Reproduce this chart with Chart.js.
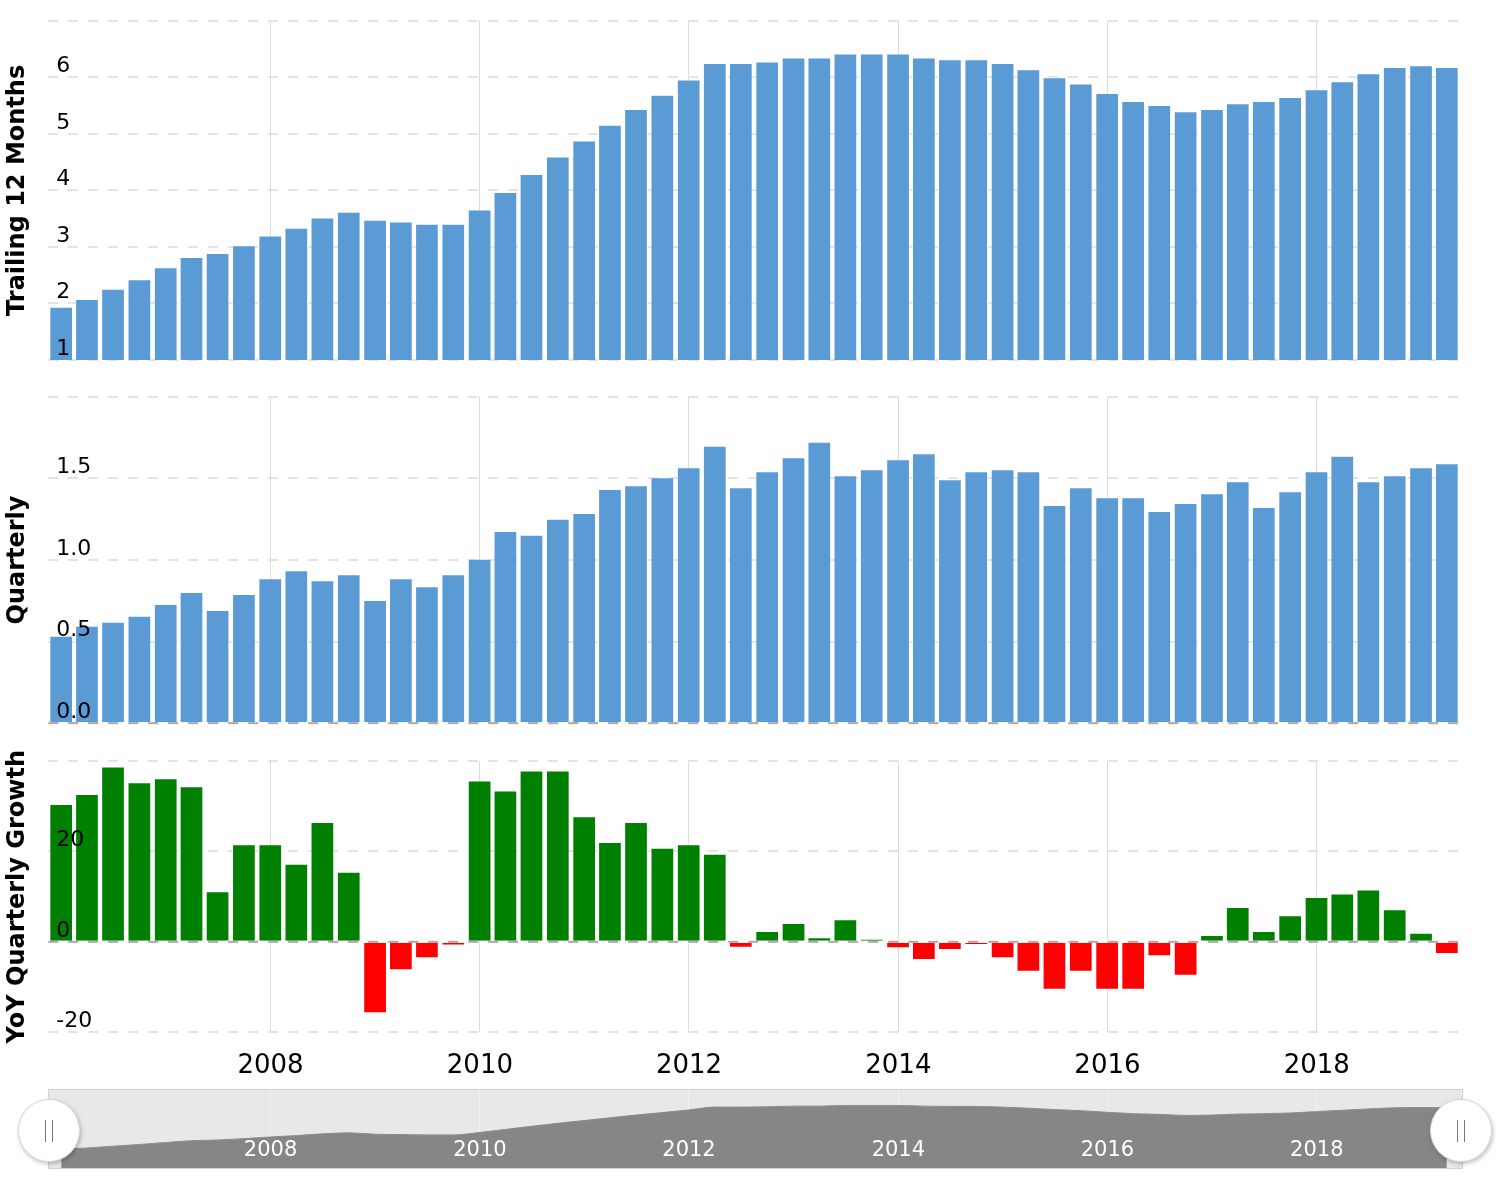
<!DOCTYPE html>
<html>
<head>
<meta charset="utf-8">
<title>Quarterly results</title>
<script src="https://cdn.jsdelivr.net/npm/chart.js"></script>
<style>
  body { margin: 0; background: #fff; }
  #wrap { position: relative; width: 1500px; height: 1198px; overflow: hidden; }
  #wrap canvas { position: absolute; left: 0; }
  #navBox { position: absolute; left: 48px; top: 1089px; width: 1413px; height: 78px; background: #e8e8e8; border: 1px solid #d2d2d2; }
  .handle { position: absolute; top: 1099px; width: 60px; height: 61px; border-radius: 50%; background: #fff; border: 1px solid #d8d8d8; box-shadow: 1px 2px 4px rgba(0, 0, 0, 0.25); }
  .handle::before, .handle::after { content: ""; position: absolute; top: 20px; height: 22px; border-left: 1px solid #777; }
  .handle::before { left: 26px; }
  .handle::after { left: 33px; }
</style>
</head>
<body>
<div id="wrap">
  <canvas id="ttmChart" width="1500" height="380" style="top:0"></canvas>
  <canvas id="qChart" width="1500" height="360" style="top:380px"></canvas>
  <canvas id="yoyChart" width="1500" height="345" style="top:740px"></canvas>
  <div id="navBox"></div>
  <canvas id="navChart" width="1500" height="90" style="top:1085px"></canvas>
  <div class="handle" style="left:18px"></div>
  <div class="handle" style="left:1430px"></div>
</div>
<script>
// quarter end dates (one bar per quarter)
const quarterEnds = [
  "2005-12-31",
  "2006-03-31", "2006-06-30", "2006-09-30", "2006-12-31",
  "2007-03-31", "2007-06-30", "2007-09-30", "2007-12-31",
  "2008-03-31", "2008-06-30", "2008-09-30", "2008-12-31",
  "2009-03-31", "2009-06-30", "2009-09-30", "2009-12-31",
  "2010-03-31", "2010-06-30", "2010-09-30", "2010-12-31",
  "2011-03-31", "2011-06-30", "2011-09-30", "2011-12-31",
  "2012-03-31", "2012-06-30", "2012-09-30", "2012-12-31",
  "2013-03-31", "2013-06-30", "2013-09-30", "2013-12-31",
  "2014-03-31", "2014-06-30", "2014-09-30", "2014-12-31",
  "2015-03-31", "2015-06-30", "2015-09-30", "2015-12-31",
  "2016-03-31", "2016-06-30", "2016-09-30", "2016-12-31",
  "2017-03-31", "2017-06-30", "2017-09-30", "2017-12-31",
  "2018-03-31", "2018-06-30", "2018-09-30", "2018-12-31",
  "2019-03-31",
];

const ttm = [
  1.94, 2.08, 2.26, 2.43, 2.64, 2.82, 2.89, 3.03, 3.2, 3.34,
  3.52, 3.62, 3.48, 3.45, 3.41, 3.41, 3.66, 3.97, 4.29, 4.6,
  4.88, 5.16, 5.44, 5.69, 5.96, 6.25, 6.25, 6.28, 6.35, 6.35,
  6.42, 6.42, 6.42, 6.35, 6.32, 6.32, 6.25, 6.14, 6.0, 5.89,
  5.72, 5.58, 5.51, 5.4, 5.44, 5.54, 5.58, 5.65, 5.79, 5.93,
  6.07, 6.18, 6.21, 6.18,
];

const quarterly = [
  0.536, 0.598, 0.622, 0.659, 0.731, 0.804, 0.694, 0.792, 0.888, 0.937,
  0.876, 0.912, 0.755, 0.888, 0.839, 0.912, 1.008, 1.178, 1.155, 1.253,
  1.288, 1.435, 1.457, 1.506, 1.568, 1.7, 1.445, 1.543, 1.629, 1.724,
  1.519, 1.555, 1.617, 1.653, 1.494, 1.543, 1.555, 1.543, 1.337, 1.445,
  1.384, 1.384, 1.3, 1.349, 1.408, 1.482, 1.324, 1.421, 1.543, 1.639,
  1.482, 1.519, 1.568, 1.592,
];

const yoyGrowth = [
  30.5, 32.7, 38.8, 35.3, 36.2, 34.4, 11.2, 21.6, 21.6, 17.3,
  26.5, 15.5, -15.8, -6.3, -3.6, -0.8, 35.7, 33.5, 37.9, 37.9,
  27.8, 22.1, 26.5, 20.8, 21.6, 19.5, -1.3, 2.4, 4.2, 1.0,
  5.0, 0.7, -1.4, -4.0, -1.8, -0.7, -3.6, -6.6, -10.6, -6.6,
  -10.6, -10.6, -3.2, -7.5, 1.5, 7.7, 2.4, 5.9, 9.9, 10.7,
  11.6, 7.2, 2.0, -2.7,
];

const tickYears = [2008, 2010, 2012, 2014, 2016, 2018];
const xRange = ["2005-11-16", "2019-05-16"];

const BLUE = "#5b9bd5";
const GREEN = "#008000";
const RED = "#ff0000";

Chart.defaults.font.family = '"DejaVu Sans", sans-serif';
Chart.defaults.animation = false;
Chart.defaults.plugins.legend.display = false;
Chart.defaults.plugins.tooltip.enabled = false;

const toTime = (s) => Date.parse(s + "T00:00:00Z");
const X_MIN = toTime(xRange[0]);
const X_MAX = toTime(xRange[1]);
const yearTicks = tickYears.map((y) => Date.UTC(y, 0, 1));

function points(values) {
  return quarterEnds.map((d, i) => ({ x: toTime(d), y: values[i] }));
}

// shared time axis, labels only on the last panel
function timeAxis(showLabels, height, gridColor) {
  return {
    type: "linear",
    min: X_MIN,
    max: X_MAX,
    offset: false,
    afterBuildTicks: (s) => {
      s.ticks = yearTicks.map((v) => ({ value: v }));
    },
    grid: { color: gridColor, lineWidth: 1, drawTicks: false, offset: false },
    border: { display: false },
    ticks: {
      display: showLabels,
      autoSkip: false,
      maxRotation: 0,
      padding: 18,
      color: "#000",
      font: { size: 26 },
      callback: (v) => String(new Date(v).getUTCFullYear()),
    },
    afterFit: (s) => {
      s.height = height;
      s.paddingLeft = 0;
      s.paddingRight = 0;
    },
  };
}

function valueAxis(title, min, max, step, fmt) {
  return {
    min: min,
    max: max,
    ticks: {
      stepSize: step,
      mirror: true,
      padding: 8,
      labelOffset: -11,
      z: 1, // labels sit on top of the bars
      color: "#000",
      font: { size: 22 },
      callback: (v) => (v === max ? "" : fmt(v)),
    },
    grid: { color: "#e3e3e3", lineWidth: 2, drawTicks: false },
    border: { display: false, dash: [10, 10] },
    title: {
      display: true,
      text: title,
      color: "#000",
      font: { size: 24, weight: "bold" },
      padding: { top: 3, bottom: 0 },
    },
    afterFit: (s) => {
      s.width = 48.3;
      s.paddingTop = 0;
      s.paddingBottom = 0;
    },
  };
}

// darker dashed line at zero, drawn over the bars
const zeroLine = {
  id: "zeroLine",
  afterDatasetsDraw(chart) {
    const { ctx, chartArea, scales } = chart;
    const y = scales.y.getPixelForValue(0);
    ctx.save();
    ctx.setLineDash([10, 10]);
    ctx.strokeStyle = "rgba(0, 0, 0, 0.25)";
    ctx.lineWidth = 2;
    ctx.beginPath();
    ctx.moveTo(chartArea.left, y);
    ctx.lineTo(chartArea.right, y);
    ctx.stroke();
    ctx.restore();
  },
};

function barPanel(id, dataset, yAxis, pad, xHeight, showLabels, extraPlugins) {
  return new Chart(document.getElementById(id), {
    type: "bar",
    data: { datasets: [dataset] },
    options: {
      responsive: false,
      layout: { padding: pad },
      datasets: { bar: { barPercentage: 0.92, categoryPercentage: 1 } },
      scales: {
        x: timeAxis(showLabels, xHeight, "#dcdcdc"),
        y: yAxis,
      },
    },
    plugins: extraPlugins,
  });
}

//============== Trailing 12 months ==============
barPanel(
  "ttmChart",
  {
    data: points(ttm),
    backgroundColor: BLUE,
    borderColor: "rgba(255, 255, 255, 0.35)",
    borderWidth: 1,
  },
  valueAxis("Trailing 12 Months", 1, 7, 1, (v) => String(v)),
  { left: 0, right: 40, top: 20.7, bottom: 20 },
  0,
  false,
  []
);

//============== Quarterly ==============
barPanel(
  "qChart",
  {
    data: points(quarterly),
    backgroundColor: BLUE,
    borderColor: "rgba(255, 255, 255, 0.35)",
    borderWidth: 1,
  },
  valueAxis("Quarterly", 0, 2, 0.5, (v) => v.toFixed(1)),
  { left: 0, right: 40, top: 16.7, bottom: 16.7 },
  0,
  false,
  [zeroLine]
);

//============== YoY growth ==============
barPanel(
  "yoyChart",
  {
    data: points(yoyGrowth),
    backgroundColor: (ctx) => (ctx.raw && ctx.raw.y < 0 ? RED : GREEN),
    borderColor: "rgba(255, 255, 255, 0.3)",
    borderWidth: 1,
  },
  valueAxis("YoY Quarterly Growth", -20, 40, 20, (v) => String(v)),
  { left: 0, right: 40, top: 21, bottom: 0 },
  52.7,
  true,
  [zeroLine]
);

//============== navigator ==============
const navLabels = {
  id: "navLabels",
  afterDraw(chart) {
    const { ctx, chartArea, scales } = chart;
    ctx.save();
    ctx.fillStyle = "#fff";
    ctx.font = '21px "DejaVu Sans"';
    ctx.textAlign = "center";
    ctx.textBaseline = "middle";
    for (const t of scales.x.ticks) {
      ctx.fillText(String(new Date(t.value).getUTCFullYear()), scales.x.getPixelForValue(t.value), chartArea.bottom - 18);
    }
    ctx.restore();
  },
};

new Chart(document.getElementById("navChart"), {
  type: "line",
  data: {
    datasets: [
      {
        data: points(ttm),
        fill: "origin",
        backgroundColor: "#868686",
        borderColor: "#8c8c8c",
        borderWidth: 1,
        pointRadius: 0,
        cubicInterpolationMode: "monotone",
      },
    ],
  },
  options: {
    responsive: false,
    layout: { padding: { left: 48.3, right: 40, top: 4.3, bottom: 6.7 } },
    scales: {
      x: timeAxis(false, 0, "rgba(255, 255, 255, 0.35)"),
      y: { display: false, min: 0, max: 8.07 },
    },
  },
  plugins: [navLabels],
});
</script>
</body>
</html>
